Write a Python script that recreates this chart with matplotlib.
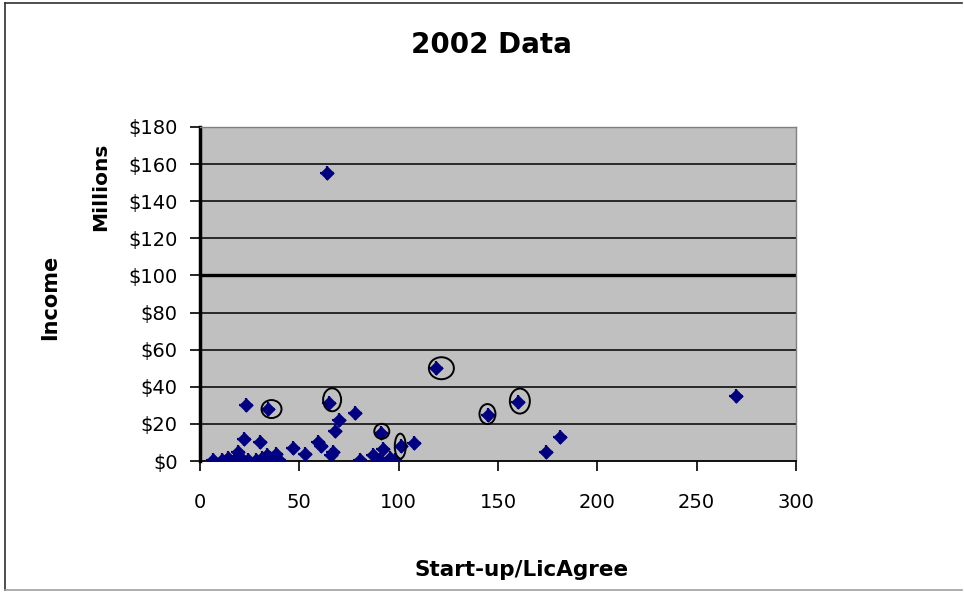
import matplotlib
matplotlib.use("Agg")
import matplotlib.pyplot as plt
from matplotlib.patches import Ellipse
from matplotlib.lines import Line2D
from matplotlib.ticker import FuncFormatter

# ---- data ----
startups = [64, 270, 119, 160, 145, 181, 174, 23, 34, 65, 78, 70, 68, 91, 101,
            107.5, 22, 30, 47, 59.5, 61, 53, 67, 80.5, 87, 92, 90.5, 95.5, 98,
            6.5, 11, 14, 17, 19, 20, 24, 28, 31, 33.5, 35, 36, 38.5, 40, 66]
income = [155, 35, 50, 32, 25, 13, 5, 30, 28, 31, 26, 22, 16, 15, 8,
          9.5, 12, 10, 7, 10.5, 8, 4, 5, 0.5, 3, 6.5, 0.5, 1.5, 0.5,
          0.5, 0.7, 1.4, 0.5, 5, 2, 0.5, 0.8, 1.4, 3.2, 1.5, 0.5, 4, 0.7, 3]
circle_x = [36, 66.5, 91.5, 100.8, 121.5, 161, 144.7]
circle_y = [28, 33, 16, 8, 50, 32.3, 25.3]
circle_w_px = [20, 18, 15, 11, 25, 20, 16]
circle_h_px = [18, 23, 15, 25, 22, 25, 20]

x_ticks = [0, 50, 100, 150, 200, 250, 300]
y_ticks = [0, 20, 40, 60, 80, 100, 120, 140, 160, 180]

W, H = 964, 592
fig = plt.figure(figsize=(W / 100, H / 100), dpi=100)
fig.patch.set_facecolor("white")

# figure frame
fig.add_artist(Line2D([5 / W, 5 / W], [2 / H, 589 / H], color="#303030", lw=1.2))
fig.add_artist(Line2D([5 / W, 962 / W], [589 / H, 589 / H], color="#303030", lw=1.2))
fig.add_artist(Line2D([5 / W, 962 / W], [2 / H, 2 / H], color="#a0a0a0", lw=1.2))

left, right, bottom, top = 200 / W, 796 / W, 1 - 461 / H, 1 - 127 / H
ax = fig.add_axes([left, bottom, right - left, top - bottom])
ax.set_facecolor("#c0c0c0")
ax.set_xlim(0, 300)
ax.set_ylim(0, 180)

for yv in y_ticks[1:]:
    ax.axhline(yv, color="black", lw=2.4 if yv == 100 else 1.1, zorder=1)

ax.scatter(startups, income, marker="D", s=55, color="#000080", zorder=3, linewidths=0)
ax.scatter(startups, income, marker="+", s=110, color="#000080", zorder=3, linewidths=1.6)

# annotation circles (sizes in pixels converted to data units)
px_x = (right - left) * W / 300.0
px_y = (top - bottom) * H / 180.0
for cx, cy, w, h in zip(circle_x, circle_y, circle_w_px, circle_h_px):
    ax.add_patch(Ellipse((cx, cy), w / px_x, h / px_y, fill=False,
                         edgecolor="black", lw=1.4, zorder=4))

ax.set_xticks(x_ticks)
ax.set_yticks(y_ticks)
ax.yaxis.set_major_formatter(FuncFormatter(lambda v, p: f"${int(v)}"))
ax.tick_params(axis="both", direction="out", length=7, width=1.2, colors="black",
               labelsize=14)
ax.tick_params(axis="y", pad=9)
ax.tick_params(axis="x", pad=16)

ax.spines["left"].set_linewidth(2.5)
ax.spines["left"].set_color("black")
ax.spines["bottom"].set_linewidth(1.3)
ax.spines["bottom"].set_color("black")
for s in ("top", "right"):
    ax.spines[s].set_color("#808080")
    ax.spines[s].set_linewidth(1.0)

fig.text(491 / W, 1 - 45 / H, "2002 Data", ha="center", va="center",
         fontsize=20, fontweight="bold")
fig.text(522 / W, 1 - 570 / H, "Start-up/LicAgree", ha="center", va="center",
         fontsize=15.5, fontweight="bold")
fig.text(50 / W, 1 - 297 / H, "Income", ha="center", va="center", rotation=90,
         fontsize=15, fontweight="bold")
fig.text(101 / W, 1 - 187 / H, "Millions", ha="center", va="center", rotation=90,
         fontsize=14.5, fontweight="bold")

fig.savefig("out.png", dpi=100)
